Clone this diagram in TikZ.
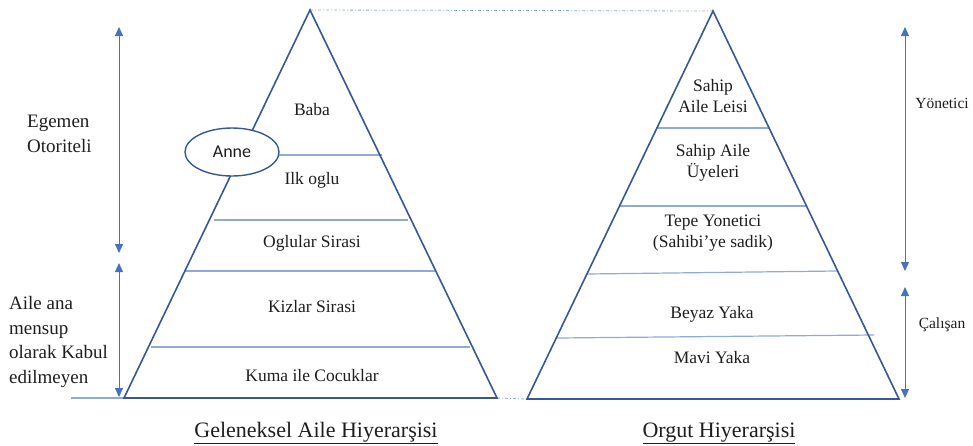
\documentclass[tikz,border=0pt]{standalone}
\usepackage{fontspec}
\setmainfont{Liberation Serif}
\newfontfamily\timesfont{Liberation Serif}
\newfontfamily\annefont{Carlito}
\usetikzlibrary{arrows.meta,shapes.geometric}
\definecolor{edge}{HTML}{35589A}
\definecolor{tier}{HTML}{8EAADB}
\definecolor{span}{HTML}{4472C4}
\definecolor{ink}{HTML}{1E1E1E}
\begin{document}
\begin{tikzpicture}[x=1pt,y=-1pt,
  outline/.style={draw=edge,line width=1.6pt,line join=miter},
  tierline/.style={draw=tier,line width=1.2pt},
  spanarrow/.style={draw=span,line width=0.9pt,{Triangle[length=9pt,width=8pt]}-{Triangle[length=9pt,width=8pt]}},
  guide/.style={draw=tier,line width=0.8pt,dash pattern=on 3pt off 2pt on 1pt off 2pt},
  lbl/.style={font=\timesfont\fontsize{17.5}{21.5}\selectfont,text=ink,align=center,inner sep=0pt},
  side/.style={font=\timesfont\fontsize{19}{24.5}\selectfont,text=ink,align=left,inner sep=0pt},
  small/.style={font=\timesfont\fontsize{15.5}{18}\selectfont,text=ink,inner sep=0pt},
  title/.style={font=\timesfont\fontsize{22}{26}\selectfont,text=ink,inner sep=0pt}]
\useasboundingbox (0,0) rectangle (973,445);

% corner points of the two pyramids
\coordinate (LA) at (310,10);
\coordinate (LL) at (124,398);
\coordinate (LR) at (497,398);
\coordinate (RA) at (713,11);
\coordinate (RL) at (527,399);
\coordinate (RR) at (899,399);

% guides joining the pyramids
\draw[guide] (LA) -- (RA);
\draw[guide] (LR) -- (RL);

% traditional family pyramid
\draw[tierline] (71,398) -- (LL);
\draw[tierline] (279,155) -- (382,155);
\draw[tierline] (214,220) -- (408,220);
\draw[tierline] (185,271) -- (435,271);
\draw[tierline] (151,347) -- (470,347);
\draw[outline] (LA) -- (LL) -- (LR) -- cycle;
\node[draw=edge,line width=1.4pt,fill=white,ellipse,minimum width=94pt,minimum height=48pt,inner sep=0pt,
      font=\annefont\fontsize{18}{21}\selectfont,text=ink] (anne) at (232,152) {Anne};

\node[lbl,anchor=base] (baba) at (312,115) {Baba};
\node[lbl,anchor=base] (ilk) at (312,184) {Ilk oglu};
\node[lbl,anchor=base] (oglu) at (312,247) {Oglular Sirasi};
\node[lbl,anchor=base] (kiz) at (312,312) {Kizlar Sirasi};
\node[lbl,anchor=base] (kuma) at (312,381) {Kuma ile Cocuklar};
\node[title,anchor=base] (ltitle) at (316,437) {\underline{Geleneksel Aile Hiyerarşisi}};

% left spans
\coordinate (l1t) at (119,27);
\coordinate (l1b) at (119,253);
\coordinate (l2t) at (119,263);
\coordinate (l2b) at (119,397);
\draw[spanarrow] (l1t) -- (l1b);
\draw[spanarrow] (l2t) -- (l2b);
\node[side,anchor=west] (egemen) at (27,134) {Egemen\\Otoriteli};
\node[side,anchor=west] (aile) at (9,342) {Aile ana\\mensup\\olarak Kabul\\edilmeyen};

% organisation pyramid
\draw[tierline] (656,128) -- (769,128);
\draw[tierline] (620,206) -- (806,206);
\draw[tierline] (587,274) -- (837,271);
\draw[tierline] (557,338) -- (874,335);
\draw[outline] (RA) -- (RL) -- (RR) -- cycle;

\node[lbl] (sahip) at (713,96) {Sahip\\Aile Leisi};
\node[lbl] (uye) at (713,163) {Sahip Aile\\Üyeleri};
\node[lbl] (tepe) at (713,233) {Tepe Yonetici\\(Sahibi’ye sadik)};
\node[lbl,anchor=base] (beyaz) at (712,318) {Beyaz Yaka};
\node[lbl,anchor=base] (mavi) at (712,363) {Mavi Yaka};
\node[title,anchor=base] (rtitle) at (719,437) {\underline{Orgut Hiyerarşisi}};

% right spans
\coordinate (r1t) at (905,27);
\coordinate (r1b) at (905,271);
\coordinate (r2t) at (905,287);
\coordinate (r2b) at (905,398);
\draw[spanarrow] (r1t) -- (r1b);
\draw[spanarrow] (r2t) -- (r2b);
\node[small,anchor=base] (yon) at (942,108) {Yönetici};
\node[small,anchor=base] (cal) at (942,328) {Çalışan};
\end{tikzpicture}
\end{document}
